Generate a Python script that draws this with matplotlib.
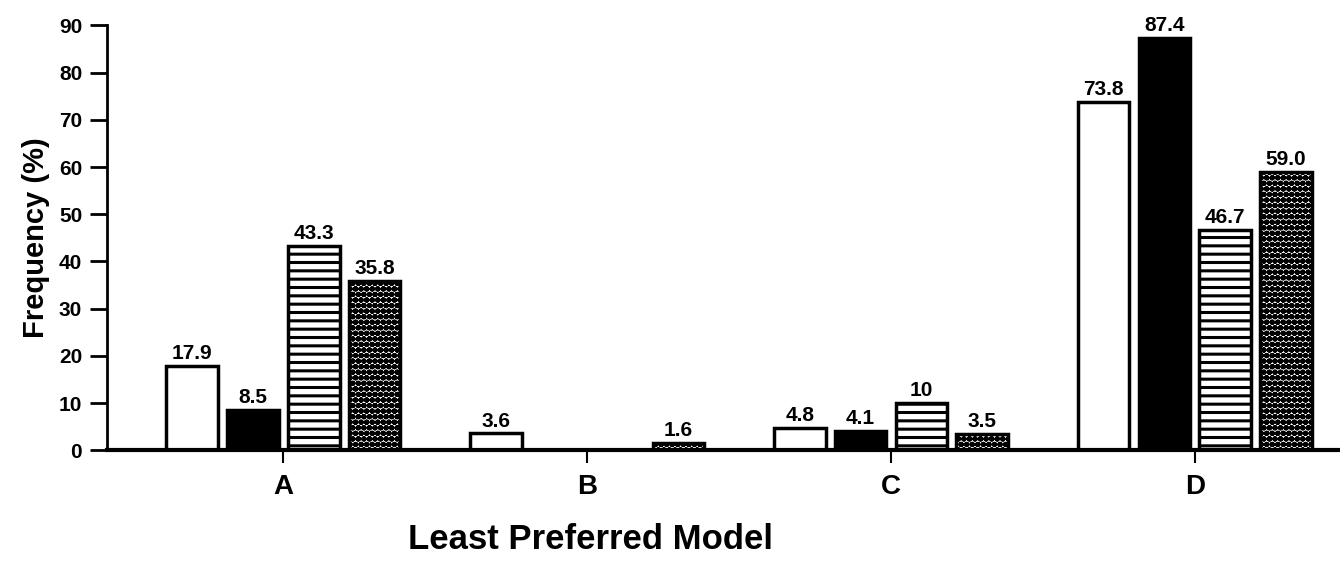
import numpy as np
import matplotlib
matplotlib.use('Agg')
import matplotlib.pyplot as plt

plt.rcParams['font.family'] = ['Liberation Sans', 'DejaVu Sans']
plt.rcParams['font.weight'] = 'bold'
plt.rcParams['hatch.linewidth'] = 2.2

# data
categories = ['A', 'B', 'C', 'D']
s_white = [17.9, 3.6, 4.8, 73.8]
s_black = [8.5, 0, 4.1, 87.4]
s_lines = [43.3, 0, 10, 46.7]
s_dots = [35.8, 1.6, 3.5, 59.0]
lab_white = ['17.9', '3.6', '4.8', '73.8']
lab_black = ['8.5', '', '4.1', '87.4']
lab_lines = ['43.3', '', '10', '46.7']
lab_dots = ['35.8', '1.6', '3.5', '59.0']

series = [
    (s_white, lab_white, 'white', ''),
    (s_black, lab_black, 'black', ''),
    (s_lines, lab_lines, 'white', '--'),
    (s_dots, lab_dots, 'white', 'ooo'),
]

fig = plt.figure(figsize=(13.4, 5.63), dpi=100)
ax = fig.add_axes([0.08, 0.2, 0.925, 0.755])

x = np.arange(len(categories))
pitch = 0.2
width = 0.17
for i, (vals, labs, fc, hatch) in enumerate(series):
    xs = x + (i - 1.5) * pitch
    for xi, v, lab in zip(xs, vals, labs):
        if v <= 0:
            continue
        ax.bar(xi, v, width=width, facecolor=fc, edgecolor='black',
               hatch=hatch, linewidth=2.5, zorder=2)
        ax.text(xi, v + 0.6, lab, ha='center', va='bottom',
                fontsize=15, fontweight='bold')

ax.set_xlim(-0.58, 3.5)
ax.set_ylim(0, 90)
ax.set_yticks(range(0, 91, 10))
ax.set_xticks(x)
ax.set_xticklabels(categories, fontsize=20, fontweight='bold')
ax.tick_params(axis='y', direction='out', length=12, width=2, labelsize=15, pad=6)
ax.tick_params(axis='x', direction='out', length=9, width=1.5, pad=8)
for lab in ax.get_yticklabels():
    lab.set_fontweight('bold')

ax.spines['top'].set_visible(False)
ax.spines['right'].set_visible(False)
ax.spines['left'].set_linewidth(2)
ax.spines['bottom'].set_linewidth(3)

ax.set_ylabel('Frequency (%)', fontsize=21, fontweight='bold', labelpad=6)
ax.set_xlabel('Least Preferred Model', fontsize=25, fontweight='bold')
ax.xaxis.set_label_coords(0.39, -0.17)

fig.savefig('out.png', dpi=100)
